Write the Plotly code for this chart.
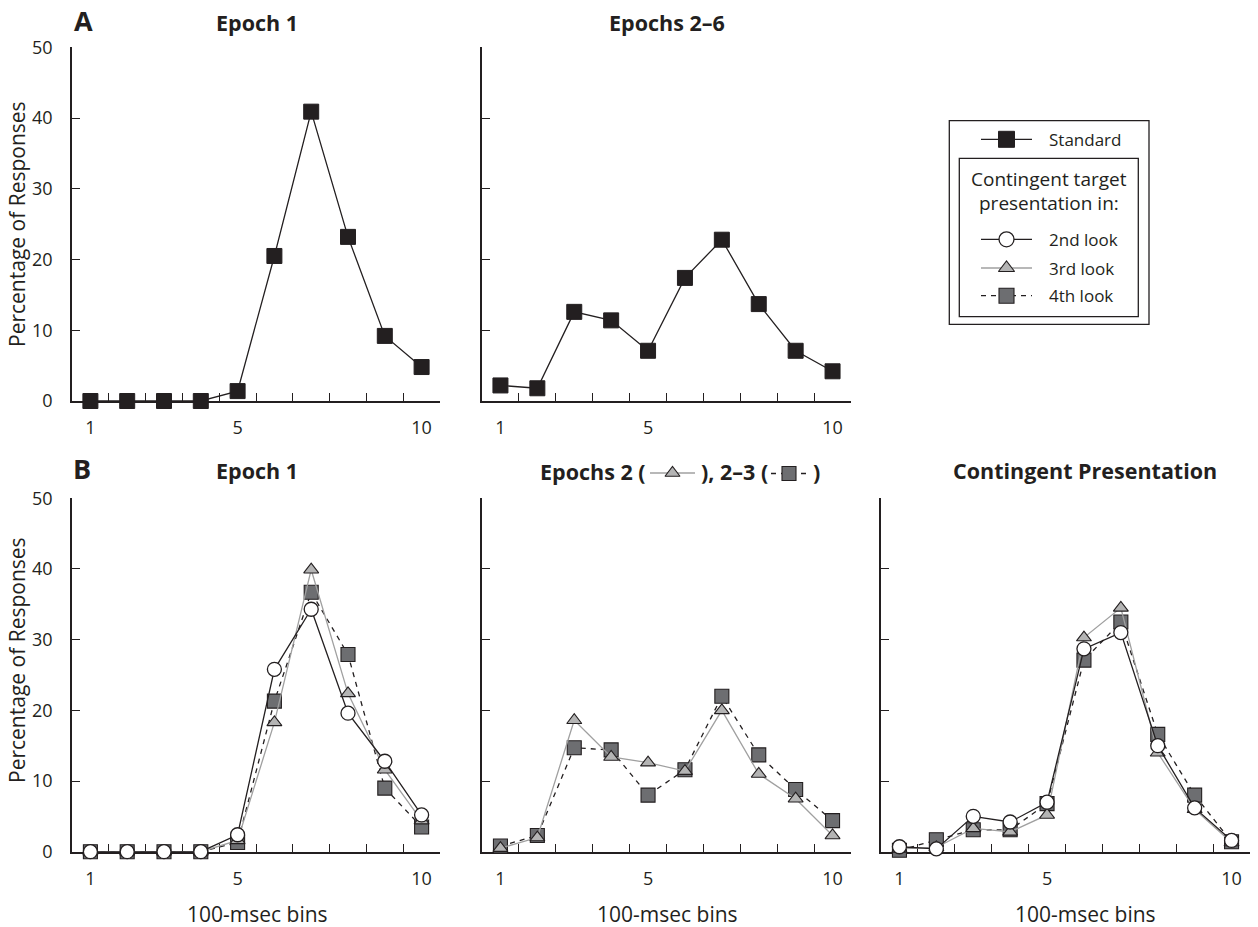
import plotly.graph_objects as go

# ---- data: percentage of responses per 100-msec bin ----
bins = [1, 2, 3, 4, 5, 6, 7, 8, 9, 10]

a_epoch1_standard = [0, 0, 0, 0, 1.4, 20.5, 40.9, 23.2, 9.2, 4.8]
a_epochs2_6_standard = [2.2, 1.8, 12.6, 11.4, 7.1, 17.4, 22.8, 13.7, 7.1, 4.2]

b_epoch1_2nd = [0, 0, 0, 0, 2.4, 25.8, 34.3, 19.6, 12.8, 5.2]
b_epoch1_3rd = [0, 0, 0, 0, 1.6, 18.3, 39.9, 22.4, 11.6, 4.4]
b_epoch1_4th = [0, 0, 0, 0, 1.3, 21.3, 36.7, 27.9, 9.0, 3.5]

b_epoch2_3rd = [0.5, 2.0, 18.6, 13.4, 12.6, 11.4, 20.0, 11.0, 7.5, 2.3]
b_epochs2_3_4th = [0.8, 2.3, 14.7, 14.4, 8.0, 11.6, 22.0, 13.7, 8.8, 4.4]

b_contingent_2nd = [0.7, 0.4, 5.0, 4.2, 7.0, 28.7, 31.0, 15.0, 6.2, 1.6]
b_contingent_3rd = [0.4, 0.6, 3.3, 2.8, 5.2, 30.3, 34.5, 14.0, 6.0, 1.3]
b_contingent_4th = [0.2, 1.7, 3.1, 3.1, 6.8, 27.1, 32.5, 16.6, 8.0, 1.4]

x_tick_vals = [1, 5, 10]
x_tick_text = ["1", "5", "10"]
x_bin_edges = [b + 0.5 for b in bins]
y_tick_vals = [0, 10, 20, 30, 40, 50]

# ---- styles ----
INK = "#231f20"
FONT = "Open Sans, Noto Sans, sans-serif"
W, H = 1258, 927

STYLES = {
    "standard": dict(line=dict(color=INK, width=1.3),
                     marker=dict(symbol="square", size=15, color=INK,
                                 line=dict(color=INK, width=1))),
    "2nd": dict(line=dict(color=INK, width=1.3),
                marker=dict(symbol="circle", size=14, color="white",
                            line=dict(color=INK, width=1.3))),
    "3rd": dict(line=dict(color="#a0a0a0", width=1.3),
                marker=dict(symbol="triangle-up", size=13, color="#b4b4b4",
                            line=dict(color=INK, width=1.1))),
    "4th": dict(line=dict(color=INK, width=1.3, dash="5px,5px"),
                marker=dict(symbol="square", size=14, color="#6d6e71",
                            line=dict(color=INK, width=1.1))),
}

fig = go.Figure()


def add_series(xa, ya, ys, key):
    st = STYLES[key]
    fig.add_trace(go.Scatter(x=bins, y=ys, mode="lines+markers",
                             line=st["line"], marker=st["marker"],
                             xaxis=xa, yaxis=ya, cliponaxis=False,
                             hoverinfo="skip"))


# Panel A
add_series("x", "y", a_epoch1_standard, "standard")
add_series("x2", "y2", a_epochs2_6_standard, "standard")
# Panel B
add_series("x3", "y3", b_epoch1_4th, "4th")
add_series("x3", "y3", b_epoch1_3rd, "3rd")
add_series("x3", "y3", b_epoch1_2nd, "2nd")
add_series("x4", "y4", b_epochs2_3_4th, "4th")
add_series("x4", "y4", b_epoch2_3rd, "3rd")
add_series("x5", "y5", b_contingent_4th, "4th")
add_series("x5", "y5", b_contingent_3rd, "3rd")
add_series("x5", "y5", b_contingent_2nd, "2nd")


def px_x(a, b):
    return [a / W, b / W]


def px_y(top, bottom):
    return [1 - bottom / H, 1 - top / H]


col_x = [px_x(72, 440), px_x(482, 851), px_x(881, 1250)]
row_a = px_y(47.3, 401)
row_b = px_y(498.3, 851.7)


def xaxis_cfg(dom, anchor):
    # bin axis: inward ticks on the boundaries between bins
    return dict(domain=dom, anchor=anchor, range=[0.5, 10.5],
                tickmode="array", tickvals=x_bin_edges,
                ticks="inside", ticklen=8, tickwidth=1.2, tickcolor=INK,
                showticklabels=False, showline=True, linecolor=INK,
                linewidth=1.5, showgrid=False, zeroline=False,
                layer="below traces", fixedrange=True, automargin=False)


def label_axis_cfg(dom, anchor, over):
    # companion axis carrying the numbers under bins 1, 5 and 10
    return dict(domain=dom, anchor=anchor, overlaying=over,
                range=[0.5, 10.5], tickmode="array", tickvals=x_tick_vals,
                ticktext=x_tick_text, ticks="", showline=False,
                showgrid=False, zeroline=False, showticklabels=True,
                tickfont=dict(family=FONT, size=18, color=INK),
                ticklabelstandoff=14, fixedrange=True, automargin=False)


def yaxis_cfg(dom, anchor, labels):
    return dict(domain=dom, anchor=anchor, range=[0, 50],
                tickmode="array", tickvals=y_tick_vals,
                ticks="inside", ticklen=8, tickwidth=1.2, tickcolor=INK,
                showticklabels=labels, showline=True, linecolor=INK,
                linewidth=1.5, showgrid=False, zeroline=False,
                layer="below traces",
                tickfont=dict(family=FONT, size=18, color=INK),
                ticklabelstandoff=14, fixedrange=True, automargin=False)


fig.update_layout(
    width=W, height=H,
    margin=dict(l=0, r=0, t=0, b=0, pad=0, autoexpand=False),
    paper_bgcolor="white", plot_bgcolor="rgba(0,0,0,0)",
    showlegend=False,
    xaxis=xaxis_cfg(col_x[0], "y"), yaxis=yaxis_cfg(row_a, "x", True),
    xaxis2=xaxis_cfg(col_x[1], "y2"), yaxis2=yaxis_cfg(row_a, "x2", False),
    xaxis3=xaxis_cfg(col_x[0], "y3"), yaxis3=yaxis_cfg(row_b, "x3", True),
    xaxis4=xaxis_cfg(col_x[1], "y4"), yaxis4=yaxis_cfg(row_b, "x4", False),
    xaxis5=xaxis_cfg(col_x[2], "y5"), yaxis5=yaxis_cfg(row_b, "x5", False),
    # full-page overlay in pixel units for the key and inline samples
    xaxis6=dict(domain=[0, 1], anchor="y6", range=[0, W], visible=False,
                fixedrange=True, automargin=False),
    yaxis6=dict(domain=[0, 1], anchor="x6", range=[H, 0], visible=False,
                fixedrange=True, automargin=False),
    xaxis7=label_axis_cfg(col_x[0], "y", "x"),
    xaxis8=label_axis_cfg(col_x[1], "y2", "x2"),
    xaxis9=label_axis_cfg(col_x[0], "y3", "x3"),
    xaxis10=label_axis_cfg(col_x[1], "y4", "x4"),
    xaxis11=label_axis_cfg(col_x[2], "y5", "x5"),
)

# register the label axes with their panels
for xa, ya in [("x7", "y"), ("x8", "y2"), ("x9", "y3"), ("x10", "y4"),
               ("x11", "y5")]:
    fig.add_trace(go.Scatter(x=[None], y=[None], mode="markers",
                             xaxis=xa, yaxis=ya, hoverinfo="skip"))


def sample(x0, x1, y, key, mx=None, msize=None):
    st = STYLES[key]
    fig.add_trace(go.Scatter(x=[x0, x1], y=[y, y], mode="lines",
                             line=st["line"], xaxis="x6", yaxis="y6",
                             cliponaxis=False, hoverinfo="skip"))
    mk = dict(st["marker"])
    if msize:
        mk["size"] = msize
    fig.add_trace(go.Scatter(x=[mx if mx is not None else (x0 + x1) / 2],
                             y=[y], mode="markers", marker=mk,
                             xaxis="x6", yaxis="y6", cliponaxis=False,
                             hoverinfo="skip"))


# key box
sample(981, 1032, 139.3, "standard", msize=16)
sample(981, 1032, 239.3, "2nd", msize=15)
sample(981, 1032, 268, "3rd", msize=14)
sample(981, 1032, 295.7, "4th", msize=15)

# inline samples in the middle B title
sample(650, 695, 473, "3rd", mx=672.5, msize=13)
sample(771, 810, 473.5, "4th", mx=789, msize=14)

shapes = [
    dict(type="rect", xref="x6", yref="y6", x0=949.3, x1=1149, y0=120.7,
         y1=324.3, line=dict(color=INK, width=1.3)),
    dict(type="rect", xref="x6", yref="y6", x0=959.3, x1=1138.3, y0=158.3,
         y1=316.7, line=dict(color=INK, width=1.3)),
]


def note(text, x, y, size, bold=False, xanchor="center", angle=0):
    return dict(text=f"<b>{text}</b>" if bold else text, x=x, y=y,
                xref="x6", yref="y6", xanchor=xanchor, yanchor="middle",
                showarrow=False, textangle=angle,
                font=dict(family=FONT, size=size, color=INK))


TS = 21.5
annotations = [
    note("A", 83, 20, 27, bold=True),
    note("B", 82, 468, 27, bold=True),
    note("Epoch 1", 256.5, 22, TS, bold=True),
    note("Epochs 2–6", 667, 22, TS, bold=True),
    note("Epoch 1", 257, 470, TS, bold=True),
    note("Contingent Presentation", 1085, 470, TS, bold=True),
    note("Epochs 2 (", 648, 471, TS, bold=True, xanchor="right"),
    note("), 2–3 (", 770, 471, TS, bold=True, xanchor="right"),
    note(")", 811, 471, TS, bold=True, xanchor="left"),
    note("Percentage of Responses", 17, 224, 21, angle=-90),
    note("Percentage of Responses", 17, 660, 21, angle=-90),
    note("100-msec bins", 257.5, 914, 21),
    note("100-msec bins", 667, 914, 21),
    note("100-msec bins", 1085, 914, 21),
    note("Standard", 1046.7, 139.3, 17, xanchor="left"),
    note("Contingent target", 1048.5, 179, 19),
    note("presentation in:", 1049, 203, 19),
    note("2nd look", 1046.7, 239.3, 17, xanchor="left"),
    note("3rd look", 1046.7, 268, 17, xanchor="left"),
    note("4th look", 1046.7, 295.7, 17, xanchor="left"),
]

fig.update_layout(shapes=shapes, annotations=annotations)

fig.write_html("out.html")
